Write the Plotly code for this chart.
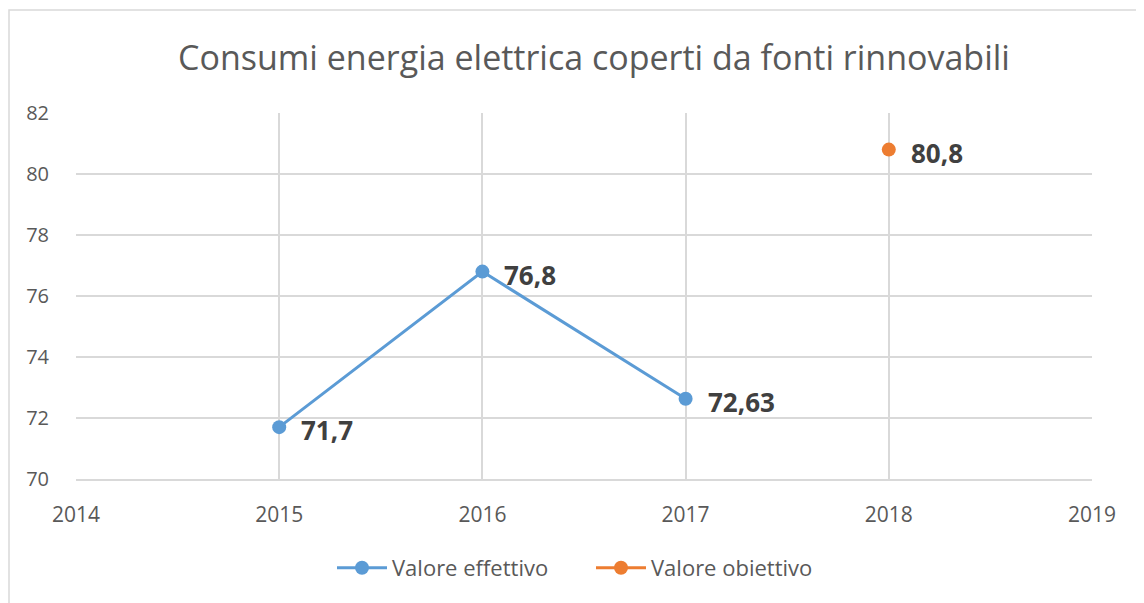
import plotly.graph_objects as go

years_eff = [2015, 2016, 2017]
vals_eff = [71.7, 76.8, 72.63]
labels_eff = ["71,7", "76,8", "72,63"]

years_obj = [2018]
vals_obj = [80.8]
labels_obj = ["80,8"]

x_ticks = [2014, 2015, 2016, 2017, 2018, 2019]
y_ticks = [70, 72, 74, 76, 78, 80, 82]

title = "Consumi energia elettrica coperti da fonti rinnovabili"
font_family = "Open Sans, DejaVu Sans, sans-serif"

fig = go.Figure()
fig.add_trace(go.Scatter(
    x=years_eff, y=vals_eff, name="Valore effettivo",
    mode="lines+markers",
    line=dict(color="#5B9BD5", width=3),
    marker=dict(color="#5B9BD5", size=14),
))
fig.add_trace(go.Scatter(
    x=years_obj, y=vals_obj, name="Valore obiettivo",
    mode="lines+markers",
    line=dict(color="#ED7D31", width=3),
    marker=dict(color="#ED7D31", size=14),
))

for xs, ys, ts in [(years_eff, vals_eff, labels_eff), (years_obj, vals_obj, labels_obj)]:
    for xv, yv, tv in zip(xs, ys, ts):
        fig.add_annotation(x=xv, y=yv, text=tv, showarrow=False,
                           xanchor="left", yanchor="middle", xshift=20, yshift=-3,
                           font=dict(size=26, color="#404040", family=font_family, weight="bold"))

# page body has 8px offset
OFF = 8
W, H = 1144 - OFF, 603 - OFF
L, R, T, B = 76 - OFF, 1144 - 1092, 113 - OFF, 603 - 479
pw, ph = W - L - R, H - T - B

def px_x(p):
    return (p - OFF - L) / pw

def px_y(p):
    return (H - B - (p - OFF)) / ph

fig.add_shape(type="rect", xref="paper", yref="paper",
              x0=px_x(9), x1=px_x(1142), y0=px_y(610), y1=px_y(10),
              line=dict(color="#D9D9D9", width=1.5), layer="below")

fig.update_layout(
    width=W, height=H,
    margin=dict(l=L, r=R, t=T, b=B),
    paper_bgcolor="white", plot_bgcolor="white",
    title=dict(text=title, x=px_x(594), xref="paper", xanchor="center",
               y=1 - (58 - OFF) / H, yanchor="middle",
               font=dict(size=34, color="#595959", family=font_family)),
    font=dict(family=font_family, color="#595959"),
    xaxis=dict(range=[2014, 2019], tickvals=x_ticks, ticktext=[str(v) for v in x_ticks],
               showgrid=True, gridcolor="#D9D9D9", gridwidth=1.5,
               showline=True, linecolor="#D9D9D9", linewidth=1.5,
               zeroline=False, ticks="", ticklabelstandoff=16,
               tickfont=dict(size=21, color="#595959")),
    yaxis=dict(range=[70, 82], tickvals=y_ticks,
               showgrid=True, gridcolor="#D9D9D9", gridwidth=1.5,
               showline=False, zeroline=False, ticks="", ticklabelstandoff=26,
               tickfont=dict(size=20, color="#595959")),
    showlegend=True,
    legend=dict(orientation="h", x=px_x(332), xanchor="left", y=px_y(568), yanchor="middle",
                font=dict(size=22, color="#595959"), itemwidth=50, entrywidth=194),
)

fig.write_html("out.html")
